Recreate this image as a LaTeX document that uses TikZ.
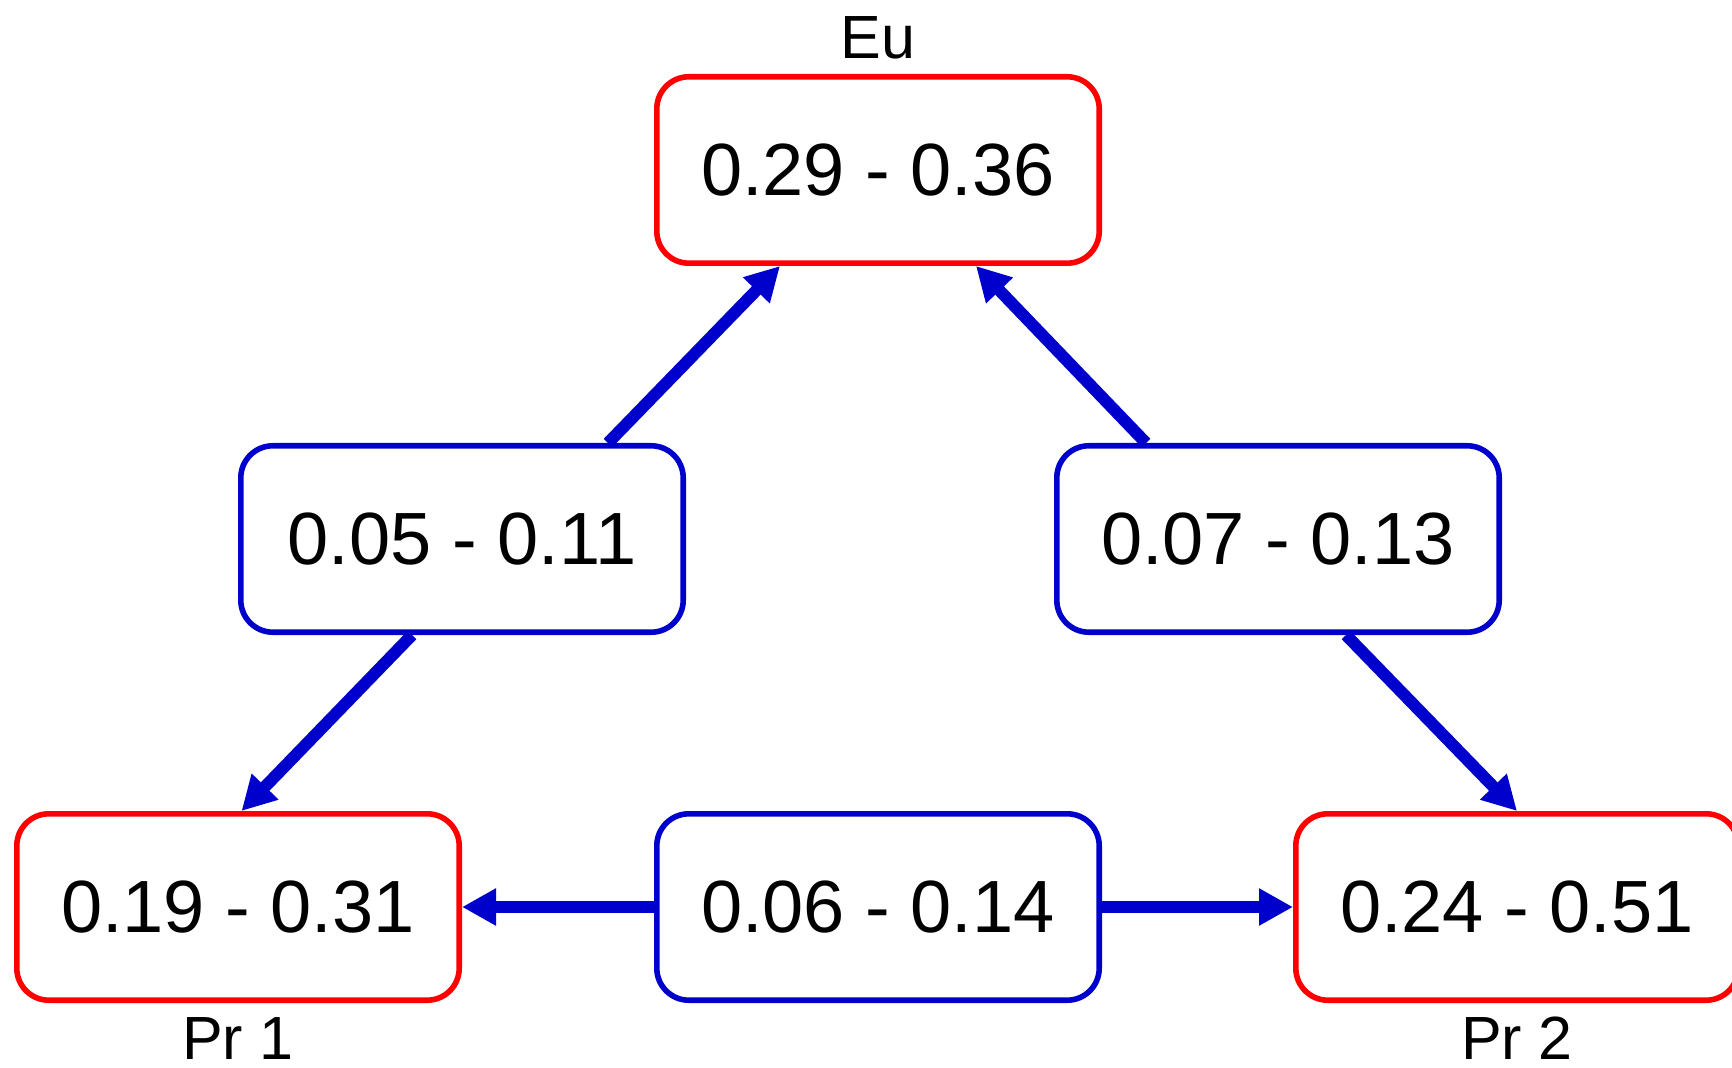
\documentclass[tikz,border=0pt]{standalone}
\usepackage{fontspec}
\setmainfont{Liberation Sans}
\usetikzlibrary{positioning, arrows.meta}
\definecolor{estred}{RGB}{255,0,0}
\definecolor{difblue}{RGB}{0,0,204}

\begin{document}
\begin{tikzpicture}[box/.style={rectangle, rounded corners=16pt, line width=2.8pt, fill=white, minimum width=221.2pt, minimum height=93.2pt, inner sep=0pt, font=\fontsize{37}{41}\selectfont},
		pop/.style={box, draw=estred}, dif/.style={box, draw=difblue},
		lbl/.style={font=\fontsize{30.5}{34}\selectfont, inner sep=0pt, anchor=base},
		arr/.style={draw=difblue, line width=6pt, -{Triangle[length=17pt, width=17.5pt]}}]
		\useasboundingbox (0,0) rectangle (866pt,-534pt);
		\node[pop] (eu) at (439pt,-85pt) {0.29 - 0.36}; \node[lbl] (eulbl) at ([yshift=7.5pt]eu.north) {Eu};
		\node[dif] (lm) [below left=88.5pt and -16pt of eu] {0.05 - 0.11}; \node[dif] (rm) [below right=88.5pt and -24pt of eu] {0.07 - 0.13};
		\node[dif] (mid) [below=272.5pt of eu] {0.06 - 0.14};
		\node[pop] (pr1) [left=96pt of mid] {0.19 - 0.31}; \node[lbl] (pr1lbl) at ([yshift=-28pt]pr1.south) {Pr 1};
		\node[pop] (pr2) [right=95.5pt of mid] {0.24 - 0.51}; \node[lbl] (pr2lbl) at ([yshift=-28pt]pr2.south) {Pr 2};
		% arrows
		\draw[arr] ([xshift=73pt]lm.north) -- ([xshift=-49pt]eu.south);
		\draw[arr] ([xshift=-66pt]rm.north) -- ([xshift=49pt]eu.south);
		\draw[arr] ([xshift=-25pt]lm.south) -- ([xshift=1.75pt]pr1.north);
		\draw[arr] ([xshift=34pt]rm.south) -- (pr2.north);
		\draw[arr] (mid) -- (pr1); \draw[arr] (mid) -- (pr2);
	\end{tikzpicture}
\end{document}
